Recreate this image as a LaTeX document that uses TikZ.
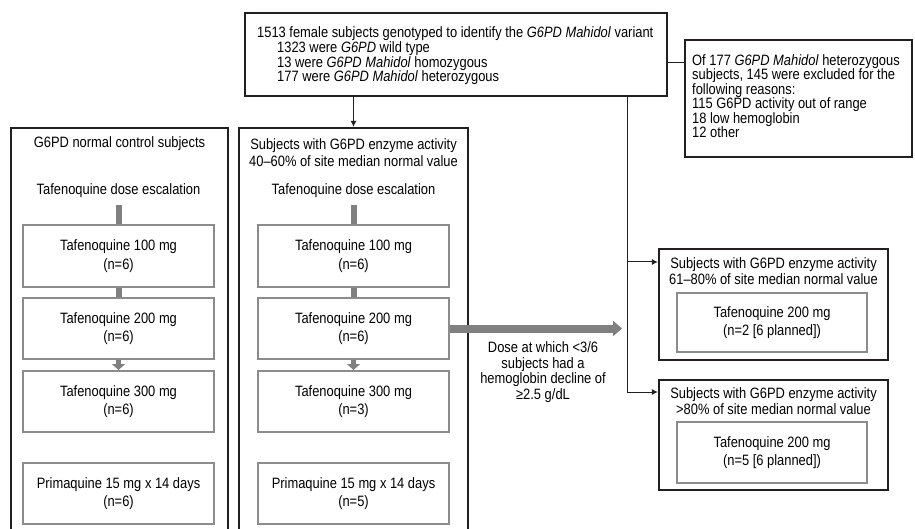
\documentclass[tikz,border=0pt]{standalone}
\usepackage{fontspec}
\setmainfont{Liberation Sans}[FakeStretch=0.86]
\usetikzlibrary{arrows.meta,calc}
\definecolor{frame}{RGB}{35,31,32}
\definecolor{boxgray}{RGB}{140,140,140}
\definecolor{arrgray}{RGB}{128,128,128}
\begin{document}
\begin{tikzpicture}[x=1pt,y=-1pt,
  outer/.style={draw=frame, line width=2.2pt, inner sep=0pt},
  innerbox/.style={draw=boxgray, line width=2pt, minimum width=191pt, minimum height=61pt, align=center, font=\fontsize{15}{18.5}\selectfont, inner sep=0pt},
  txt/.style={align=center, font=\fontsize{15}{16}\selectfont, inner sep=0pt},
  thinline/.style={draw=frame, line width=1pt},
  tipped/.style={-{Latex[length=6pt,width=6pt]}},
  grayline/.style={draw=arrgray, line width=6pt},
]
\useasboundingbox (0,0) rectangle (915,529);
\clip (0,0) rectangle (915,529);
\fill[white] (0,0) rectangle (915,529);

% outer boxes
\node[outer, minimum width=422pt, minimum height=83pt] (top) at (456,54.5) {};
\node[outer, minimum width=227pt, minimum height=117pt] (excl) at (798.5,98.5) {};
\node[outer, minimum width=217pt, minimum height=412pt] (leftcol) at (119.5,334) {};
\node[outer, minimum width=229pt, minimum height=412pt] (midcol) at (353.5,334) {};
\node[outer, minimum width=229pt, minimum height=111pt] (r1) at (773.5,304.5) {};
\node[outer, minimum width=229pt, minimum height=110pt] (r2) at (773.5,435) {};

% texts of top and exclusion boxes
\node[anchor=west, align=left, inner sep=0pt, font=\fontsize{15}{14.6}\selectfont] (toptext) at (257,56)
 {1513 female subjects genotyped to identify the \textit{G6PD Mahidol} variant\\
  \hspace*{20pt}1323 were \textit{G6PD} wild type\\
  \hspace*{20pt}13 were \textit{G6PD Mahidol} homozygous\\
  \hspace*{20pt}177 were \textit{G6PD Mahidol} heterozygous};
\node[anchor=west, align=left, inner sep=0pt, font=\fontsize{15}{14.5}\selectfont] (excltext) at (692,96)
 {Of 177 \textit{G6PD Mahidol} heterozygous\\
  subjects, 145 were excluded for the\\
  following reasons:\\
  115 G6PD activity out of range\\
  18 low hemoglobin\\
  12 other};

% column titles
\node[txt] (Ltitle) at (119.5,144) {G6PD normal control subjects};
\node[txt, font=\fontsize{15}{17}\selectfont] (Mtitle) at (353.5,153) {Subjects with G6PD enzyme activity\\40--60\% of site median normal value};
\node[txt] (Lesc) at (118.5,191) {Tafenoquine dose escalation};
\node[txt] (Mesc) at (353.5,191) {Tafenoquine dose escalation};

% inner boxes left
\node[innerbox] (L1) at (118.5,256) {Tafenoquine 100 mg\\(n=6)};
\node[innerbox] (L2) at (118.5,328.5) {Tafenoquine 200 mg\\(n=6)};
\node[innerbox] (L3) at (118.5,401.5) {Tafenoquine 300 mg\\(n=6)};
\node[innerbox] (L4) at (118.5,493.5) {Primaquine 15 mg x 14 days\\(n=6)};
% inner boxes middle
\node[innerbox] (M1) at (353.5,256) {Tafenoquine 100 mg\\(n=6)};
\node[innerbox] (M2) at (353.5,328.5) {Tafenoquine 200 mg\\(n=6)};
\node[innerbox] (M3) at (353.5,401.5) {Tafenoquine 300 mg\\(n=3)};
\node[innerbox] (M4) at (353.5,493.5) {Primaquine 15 mg x 14 days\\(n=5)};

% right boxes
\node[txt] (R1title) at (773.5,271) {Subjects with G6PD enzyme activity\\61--80\% of site median normal value};
\node[innerbox, minimum width=190pt, minimum height=59pt] (R1i) at (772,322.5) {Tafenoquine 200 mg\\(n=2 [6 planned])};
\node[txt] (R2title) at (773.5,401.5) {Subjects with G6PD enzyme activity\\>80\% of site median normal value};
\node[innerbox, minimum width=190pt, minimum height=61pt] (R2i) at (772,452.5) {Tafenoquine 200 mg\\(n=5 [6 planned])};

% dose text
\node[txt, font=\fontsize{15}{15.6}\selectfont] (dose) at (543,372) {Dose at which <3/6\\subjects had a\\hemoglobin decline of\\≥2.5 g/dL};

% gray connectors
\draw[grayline] ([yshift=-7pt]Lesc.south) -- (L1.north);
\draw[grayline] ([yshift=-7pt]Mesc.south) -- (M1.north);
\draw[grayline] (L1.south) -- (L2.north);
\draw[grayline] (M1.south) -- (M2.north);
\draw[draw=arrgray, line width=5pt, -{Triangle[length=6pt,width=13pt]}] (L2.south) -- (L3.north);
\draw[draw=arrgray, line width=5pt, -{Triangle[length=6pt,width=13pt]}] (M2.south) -- (M3.north);
\coordinate (bigend) at (622,328.5);
\draw[draw=arrgray, line width=8pt, -{Triangle[length=9pt,width=15pt]}] (M2.east) -- (bigend);

% thin connectors
\coordinate (c1) at (667,63);
\coordinate (v) at (627,0);
\coordinate (y262) at (0,262);
\coordinate (y392) at (0,392);
\draw[thinline] (c1) -- (c1 -| excl.west);
\draw[thinline, tipped] (top.south -| midcol.north) -- (midcol.north);
\draw[thinline, tipped] (top.south -| v) |- (r2.west |- y392);
\draw[thinline, tipped] (v |- y262) -- (r1.west |- y262);
\end{tikzpicture}
\end{document}
